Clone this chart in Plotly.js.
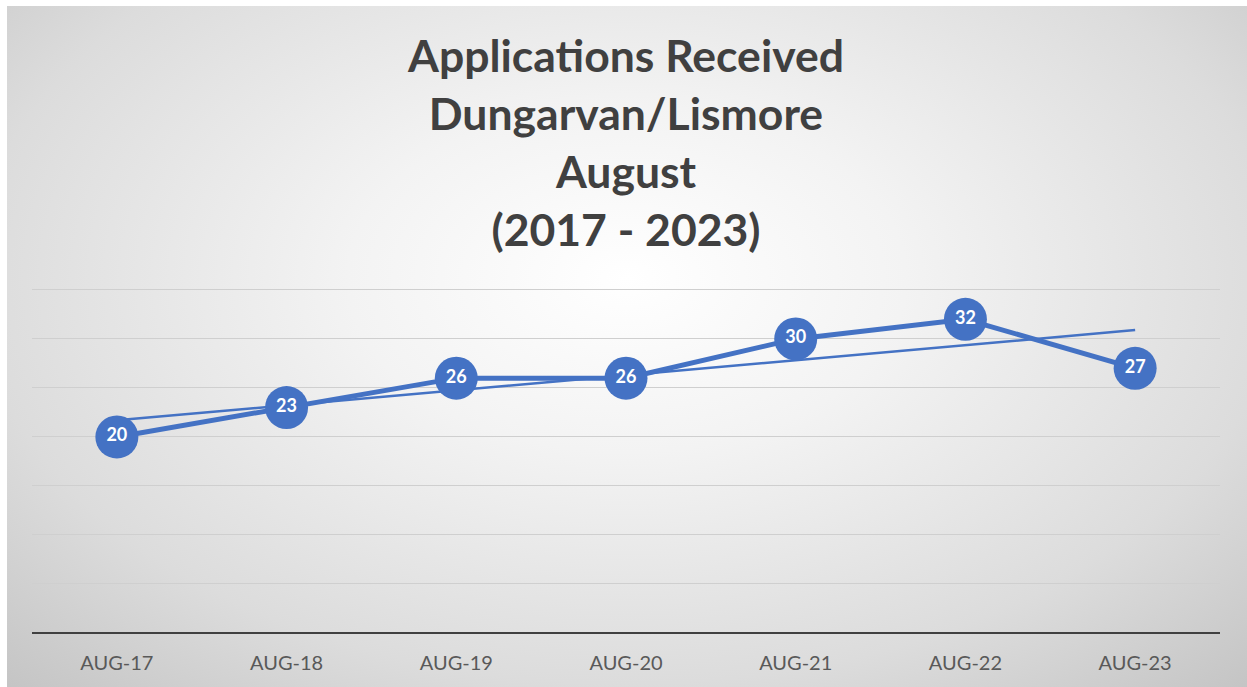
<!DOCTYPE html>
<html>
<head>
<meta charset="utf-8">
<script src="https://cdn.plot.ly/plotly-3.0.1.min.js"></script>
<style>
  html, body { margin: 0; padding: 0; background: #ffffff; width: 1247px; height: 687px; overflow: hidden; }
  #bg { position: absolute; left: 7px; top: 6px; width: 1240px; height: 681px;
        background: radial-gradient(ellipse 75% 85% at 50% 40%, #ffffff 0%, #f3f3f3 30%, #dcdcdc 70%, #c2c2c2 100%); }
  #chart { position: absolute; left: 0; top: 0; width: 1247px; height: 687px; }
</style>
</head>
<body>
<div id="bg"></div>
<div id="chart"></div>
<script>
const categories = ["AUG-17", "AUG-18", "AUG-19", "AUG-20", "AUG-21", "AUG-22", "AUG-23"];
const applications = [20, 23, 26, 26, 30, 32, 27];
const trendCategories = ["AUG-17", "AUG-23"];
const trendValues = [21.7, 30.9];
const titleLines = ["Applications Received", "Dungarvan/Lismore", "August", "(2017 - 2023)"];

const blue = "#4472C4";
const font = "Lato, 'Open Sans', sans-serif";

const trend = {
  x: trendCategories,
  y: trendValues,
  type: "scatter",
  mode: "lines",
  line: { color: blue, width: 2.5 },
  hoverinfo: "skip",
  showlegend: false
};

const series = {
  x: categories,
  y: applications,
  type: "scatter",
  mode: "lines+markers+text",
  line: { color: blue, width: 5 },
  marker: { color: blue, size: 43, line: { width: 0 } },
  text: applications.map(String),
  textposition: "middle center",
  textfont: { family: font, size: 18, color: "#ffffff", weight: "bold" },
  showlegend: false
};

const layout = {
  width: 1247,
  height: 687,
  margin: { l: 32, r: 27, t: 285, b: 54 },
  paper_bgcolor: "rgba(0,0,0,0)",
  plot_bgcolor: "rgba(0,0,0,0)",
  title: {
    text: "<b>" + titleLines.join("<br>") + "</b>",
    font: { family: font, size: 44.5, color: "#404040" },
    x: 0.5, xref: "paper", xanchor: "center",
    y: 1 - 72 / 687, yref: "container", yanchor: "top"
  },
  xaxis: {
    type: "category",
    categoryorder: "array",
    categoryarray: categories,
    range: [-0.5, 6.5],
    showgrid: false,
    zeroline: false,
    showline: false,
    ticks: "",
    ticklabelstandoff: 16,
    tickfont: { family: font, size: 20, color: "#595959" },
    fixedrange: true
  },
  yaxis: {
    range: [0, 35.5],
    tick0: 0,
    dtick: 5,
    showgrid: true,
    gridcolor: "#cfcfcf",
    gridwidth: 1,
    zeroline: true,
    zerolinecolor: "#404040",
    zerolinewidth: 2.5,
    showticklabels: false,
    ticks: "",
    fixedrange: true
  }
};

Plotly.newPlot("chart", [trend, series], layout, { displayModeBar: false, staticPlot: true });
</script>
</body>
</html>
